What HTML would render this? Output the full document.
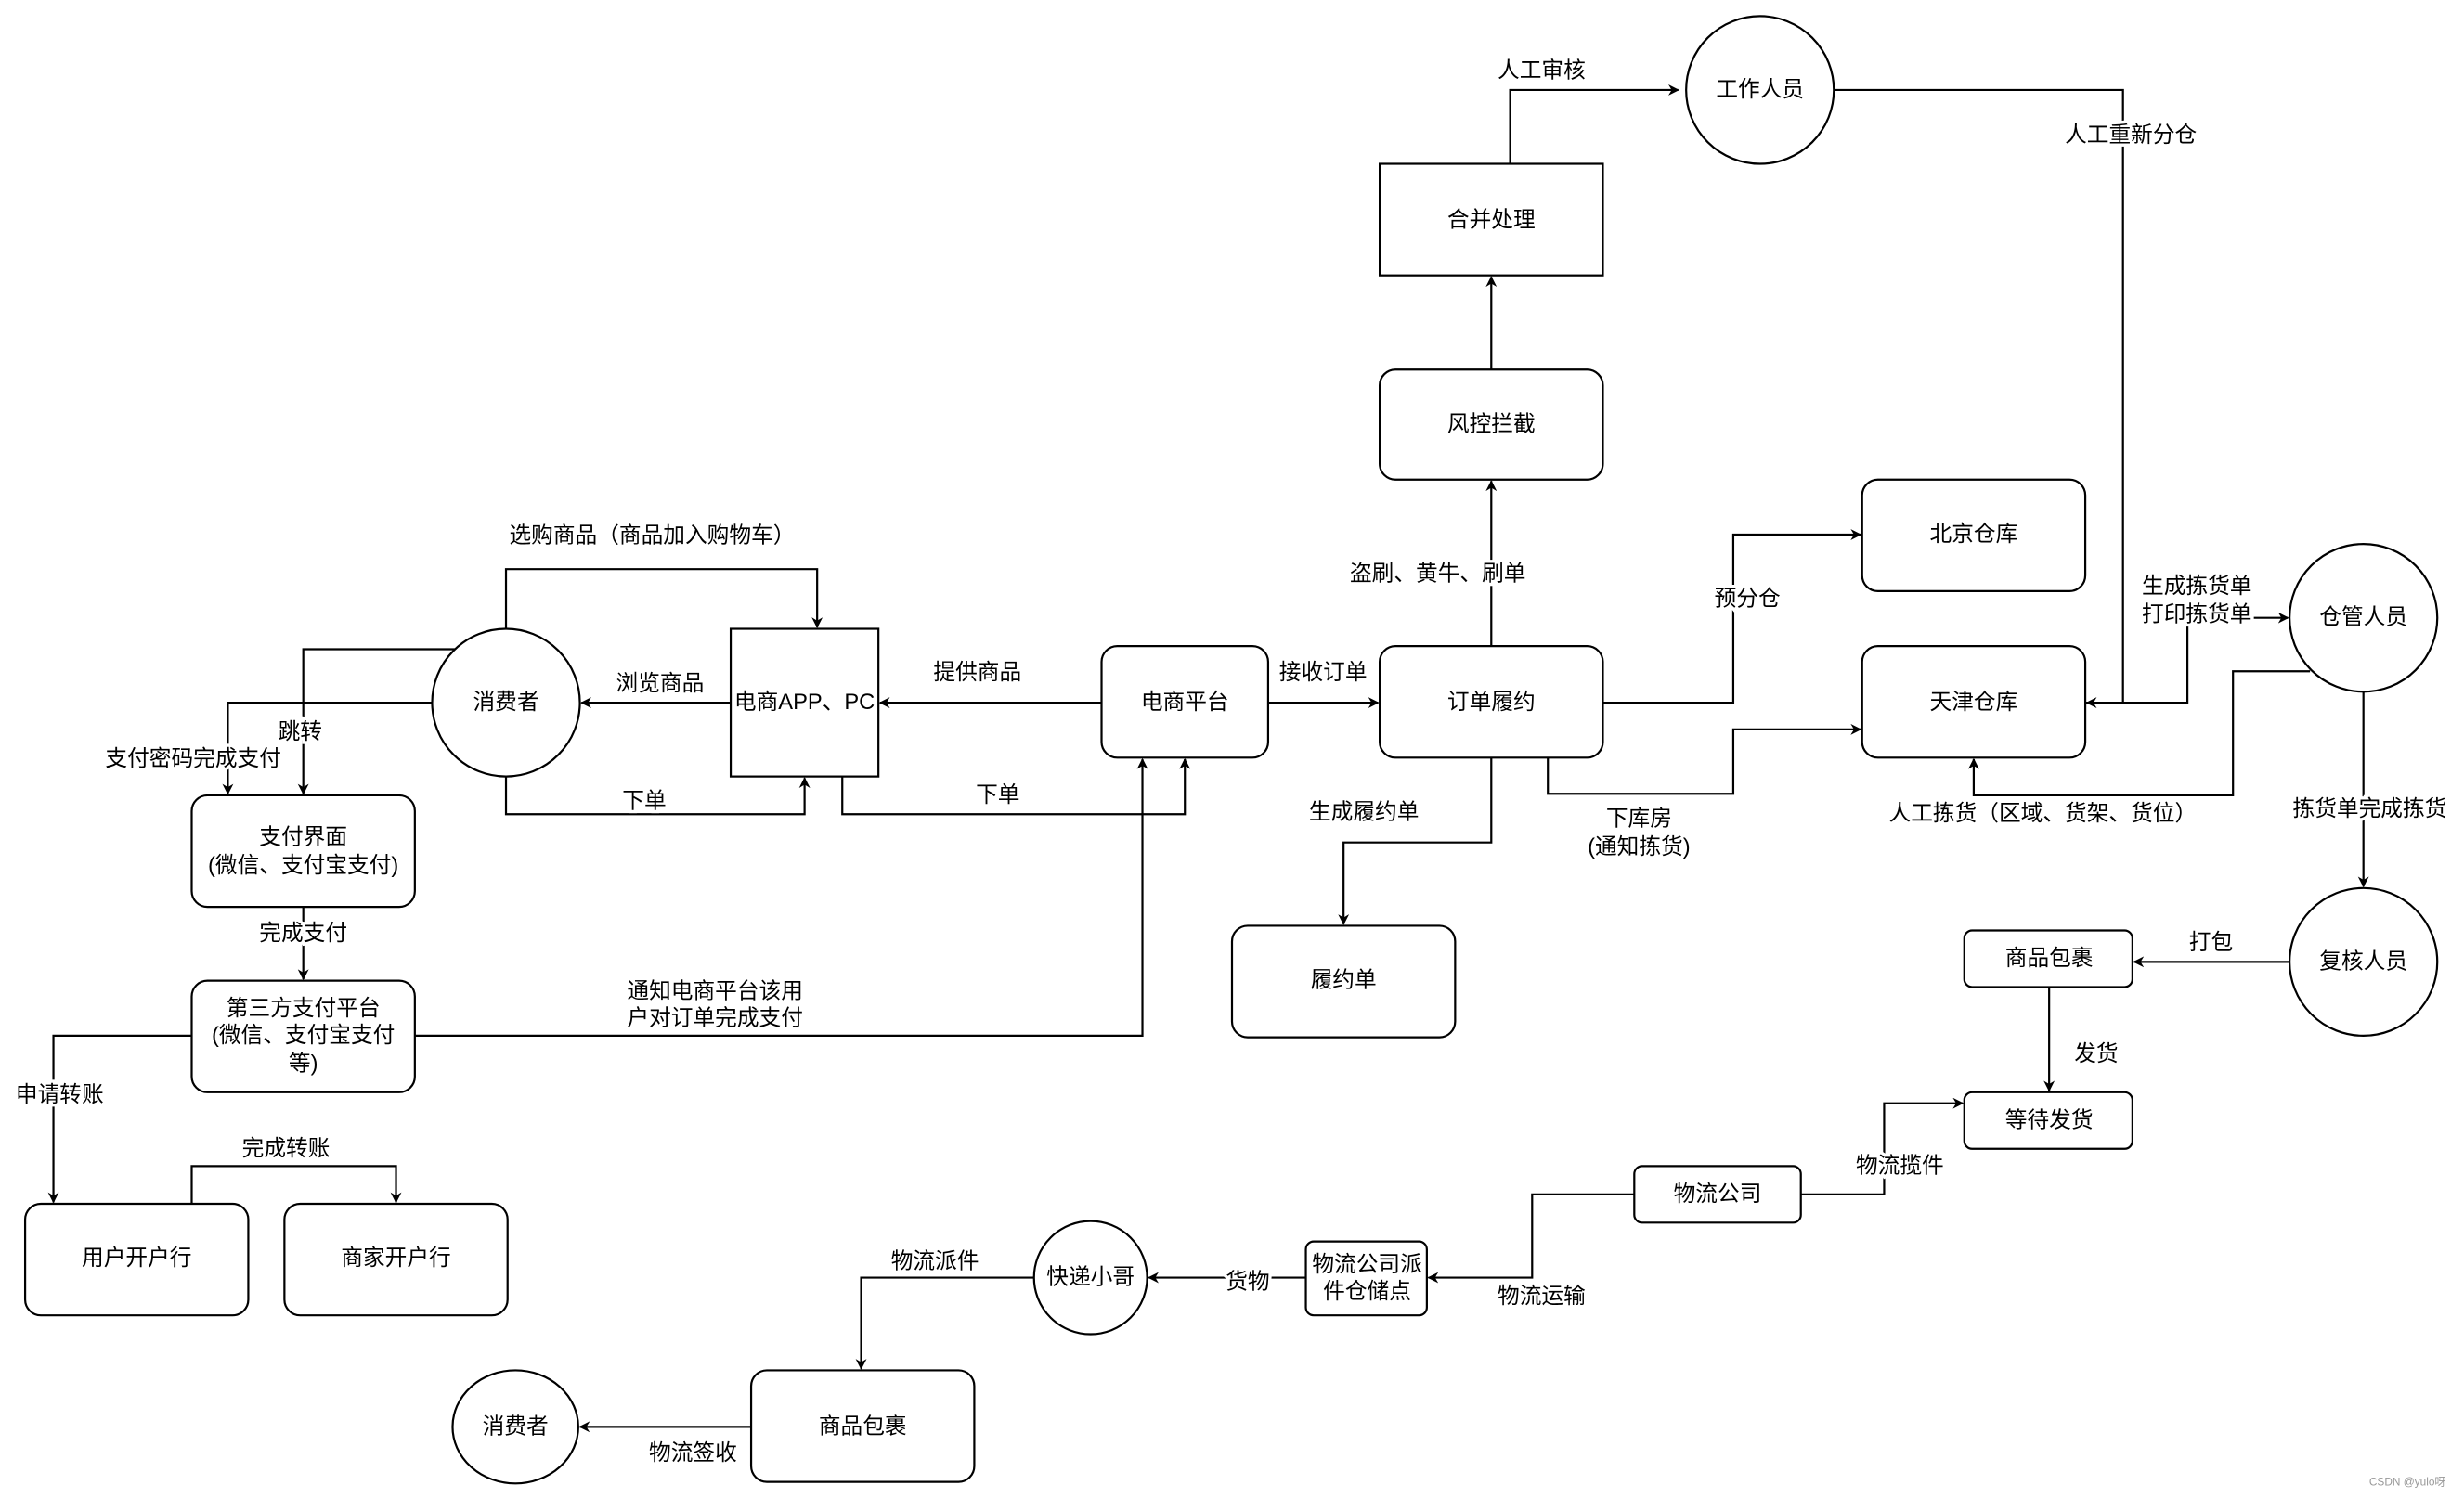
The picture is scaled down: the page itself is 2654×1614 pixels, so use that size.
<!DOCTYPE html>
<html><head><meta charset="utf-8"><style>
html,body{margin:0;padding:0;background:#fff;}
svg{display:block;}
text{font-family:"Liberation Sans","Noto Sans CJK SC",sans-serif;font-size:14px;fill:#000;text-anchor:middle;dominant-baseline:central;}
.l{paint-order:stroke;stroke:#fff;stroke-width:4px;}
.s{fill:#fff;stroke:#000;stroke-width:1.3;}
.c{fill:none;stroke:#000;stroke-width:1.3;}
</style></head><body>
<svg width="2654" height="1614" viewBox="0 0 1568 953" xmlns="http://www.w3.org/2000/svg">
<defs><marker id="a" viewBox="0 0 10 10" refX="9" refY="5" markerWidth="7" markerHeight="7" orient="auto" markerUnits="userSpaceOnUse"><path d="M0,0 L10,5 L0,10 L3,5 z" fill="#000"/></marker></defs>
<g class="c" marker-end="url(#a)">
<polyline points="961,104 961,57 1068,57"/>
<polyline points="1167,57 1351,57 1351,447 1328,447"/>
<polyline points="949,235 949,176"/>
<polyline points="949,411 949,306"/>
<polyline points="1020,447 1103,447 1103,340 1184,340"/>
<polyline points="985,482 985,505 1103,505 1103,464 1184,464"/>
<polyline points="949,482 949,536 855,536 855,588"/>
<polyline points="807,447 877,447"/>
<polyline points="701,447 560,447"/>
<polyline points="465,447 370,447"/>
<polyline points="322,400 322,362 520,362 520,399"/>
<polyline points="322,494 322,518 512,518 512,495"/>
<polyline points="536,494 536,518 754,518 754,483"/>
<polyline points="290,413 193,413 193,505"/>
<polyline points="275,447 145,447 145,505"/>
<polyline points="193,577 193,623"/>
<polyline points="264,659 727,659 727,483"/>
<polyline points="122,659 34,659 34,765"/>
<polyline points="122,766 122,742 252,742 252,765"/>
<polyline points="1327,447 1392,447 1392,393 1456,393"/>
<polyline points="1470,427 1421,427 1421,506 1256,506 1256,483"/>
<polyline points="1504,440 1504,564"/>
<polyline points="1457,612 1358,612"/>
<polyline points="1304,628 1304,694"/>
<polyline points="1146,760 1199,760 1199,702 1249,702"/>
<polyline points="1040,760 975,760 975,813 909,813"/>
<polyline points="831,813 731,813"/>
<polyline points="658,813 548,813 548,871"/>
<polyline points="478,908 369,908"/>
</g>
<rect class="s" x="878" y="104" width="142" height="71"/><text x="949" y="140">合并处理</text>
<rect class="s" x="878" y="235" width="142" height="70" rx="10"/><text x="949" y="270">风控拦截</text>
<rect class="s" x="1185" y="305" width="142" height="71" rx="10"/><text x="1256" y="340">北京仓库</text>
<rect class="s" x="1185" y="411" width="142" height="71" rx="10"/><text x="1256" y="447">天津仓库</text>
<rect class="s" x="465" y="400" width="94" height="94"/><text x="512" y="447">电商APP、PC</text>
<rect class="s" x="701" y="411" width="106" height="71" rx="10"/><text x="754" y="447">电商平台</text>
<rect class="s" x="878" y="411" width="142" height="71" rx="10"/><text x="949" y="447">订单履约</text>
<rect class="s" x="122" y="506" width="142" height="71" rx="10"/><text x="193" y="533">支付界面</text><text x="193" y="551">(微信、支付宝支付)</text>
<rect class="s" x="784" y="589" width="142" height="71" rx="10"/><text x="855" y="624">履约单</text>
<rect class="s" x="1250" y="592" width="107" height="36" rx="5"/><text x="1304" y="610">商品包裹</text>
<rect class="s" x="122" y="624" width="142" height="71" rx="10"/><text x="193" y="642">第三方支付平台</text><text x="193" y="659">(微信、支付宝支付</text><text x="193" y="677">等)</text>
<rect class="s" x="1250" y="695" width="107" height="36" rx="5"/><text x="1304" y="713">等待发货</text>
<rect class="s" x="1040" y="742" width="106" height="36" rx="5"/><text x="1093" y="760">物流公司</text>
<rect class="s" x="16" y="766" width="142" height="71" rx="10"/><text x="87" y="801">用户开户行</text>
<rect class="s" x="181" y="766" width="142" height="71" rx="10"/><text x="252" y="801">商家开户行</text>
<rect class="s" x="831" y="790" width="77" height="47" rx="5"/><text x="870" y="805">物流公司派</text><text x="870" y="822">件仓储点</text>
<rect class="s" x="478" y="872" width="142" height="71" rx="10"/><text x="549" y="908">商品包裹</text>
<circle class="s" cx="1120" cy="57" r="47"/><text x="1120" y="57">工作人员</text>
<circle class="s" cx="1504" cy="393" r="47"/><text x="1504" y="393">仓管人员</text>
<circle class="s" cx="322" cy="447" r="47"/><text x="322" y="447">消费者</text>
<circle class="s" cx="1504" cy="612" r="47"/><text x="1504" y="612">复核人员</text>
<circle class="s" cx="694" cy="813" r="36"/><text x="694" y="813">快递小哥</text>
<ellipse class="s" cx="328" cy="908" rx="40" ry="36"/><text x="328" y="908">消费者</text>
<g>
<text class="l" x="981" y="45">人工审核</text>
<text class="l" x="1356" y="86">人工重新分仓</text>
<text class="l" x="915" y="365">盗刷、黄牛、刷单</text>
<text class="l" x="1112" y="381">预分仓</text>
<text class="l" x="1043" y="521">下库房</text>
<text class="l" x="1043" y="539">(通知拣货)</text>
<text class="l" x="868" y="517">生成履约单</text>
<text class="l" x="842" y="428">接收订单</text>
<text class="l" x="622" y="428">提供商品</text>
<text class="l" x="420" y="435">浏览商品</text>
<text class="l" x="415" y="341">选购商品（商品加入购物车）</text>
<text class="l" x="410" y="510">下单</text>
<text class="l" x="635" y="506">下单</text>
<text class="l" x="191" y="466">跳转</text>
<text class="l" x="123" y="483">支付密码完成支付</text>
<text class="l" x="193" y="594">完成支付</text>
<text class="l" x="455" y="631">通知电商平台该用</text>
<text class="l" x="455" y="648">户对订单完成支付</text>
<text class="l" x="38" y="697">申请转账</text>
<text class="l" x="182" y="731">完成转账</text>
<text class="l" x="1398" y="373">生成拣货单</text>
<text class="l" x="1398" y="391">打印拣货单</text>
<text class="l" x="1300" y="518">人工拣货（区域、货架、货位）</text>
<text class="l" x="1508" y="515">拣货单完成拣货</text>
<text class="l" x="1407" y="600">打包</text>
<text class="l" x="1334" y="671">发货</text>
<text class="l" x="1209" y="742">物流揽件</text>
<text class="l" x="981" y="825">物流运输</text>
<text class="l" x="794" y="816">货物</text>
<text class="l" x="595" y="803">物流派件</text>
<text class="l" x="441" y="925">物流签收</text>
<text x="1532" y="943" style="font-size:7px;fill:#999">CSDN @yulo呀</text>
</g>
</svg>
</body></html>
